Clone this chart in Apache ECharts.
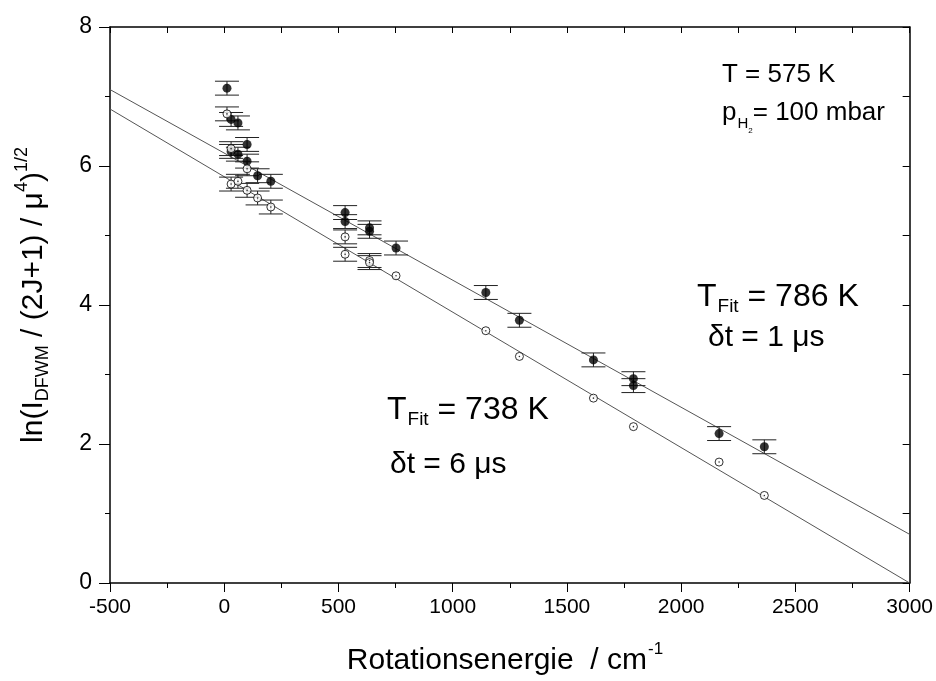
<!DOCTYPE html>
<html>
<head>
<meta charset="utf-8">
<script src="https://cdn.jsdelivr.net/npm/echarts@6/dist/echarts.min.js"></script>
<style>
  html, body { margin: 0; padding: 0; background: #fff; }
  #chart { width: 936px; height: 681px; }
</style>
</head>
<body>
<div id="chart"></div>
<script>
// Rotational energies (cm^-1) and Boltzmann-plot values, delay 1 us (filled)
const energiesFilled = [12, 30, 30, 60, 60, 100, 100, 146, 204, 529, 529, 636, 636, 752, 1145, 1292, 1616, 1791, 1791, 2166, 2364];
const valuesFilled   = [7.12, 6.67, 6.21, 6.62, 6.17, 6.31, 6.07, 5.86, 5.78, 5.33, 5.20, 5.11, 5.06, 4.82, 4.18, 3.78, 3.21, 2.94, 2.84, 2.15, 1.96];
const errorsFilled   = [0.1, 0.1, 0.1, 0.1, 0.1, 0.1, 0.1, 0.1, 0.1, 0.1, 0.1, 0.1, 0.1, 0.1, 0.1, 0.1, 0.1, 0.1, 0.1, 0.1, 0.1];

// Delay 6 us (open circles)
const energiesOpen = [12, 30, 30, 60, 100, 100, 146, 204, 529, 529, 636, 636, 752, 1145, 1292, 1616, 1791, 2166, 2364];
const valuesOpen   = [6.75, 6.25, 5.74, 5.78, 5.96, 5.65, 5.54, 5.41, 4.98, 4.73, 4.64, 4.61, 4.42, 3.63, 3.26, 2.66, 2.25, 1.74, 1.26];
const errorsOpen   = [0.1, 0.1, 0.1, 0.1, 0.1, 0.1, 0.1, 0.1, 0.1, 0.1, 0.1, 0.1, 0, 0, 0, 0, 0, 0, 0];

// Linear fits (end points over the axis range)
const fitEnergies   = [-500, 3000];
const fitFilledVals = [7.10, 0.70];
const fitOpenVals   = [6.82, 0.00];

// Axis ticks
const xTicks = [-500, 0, 500, 1000, 1500, 2000, 2500, 3000];
const yTicks = [0, 2, 4, 6, 8];

const FONT = '"Liberation Sans", Arial, Helvetica, sans-serif';

const zip = (xs, ys) => xs.map((x, i) => [x, ys[i]]);
const zip3 = (xs, ys, es) => xs.map((x, i) => [x, ys[i], es[i]]);

function errorBars(api) {
  const x = api.value(0), y = api.value(1), e = api.value(2);
  if (!e) return null;
  const top = api.coord([x, y + e]);
  const bot = api.coord([x, y - e]);
  const hw = 12;
  const st = { stroke: '#222', lineWidth: 1 };
  return {
    type: 'group',
    children: [
      { type: 'line', shape: { x1: top[0], y1: top[1], x2: bot[0], y2: bot[1] }, style: st },
      { type: 'line', shape: { x1: top[0] - hw, y1: top[1], x2: top[0] + hw, y2: top[1] }, style: st },
      { type: 'line', shape: { x1: bot[0] - hw, y1: bot[1], x2: bot[0] + hw, y2: bot[1] }, style: st }
    ]
  };
}

const xMin = xTicks[0], xMax = xTicks[xTicks.length - 1];
const yMin = yTicks[0], yMax = yTicks[yTicks.length - 1];
const plain = v => String(v);

const baseX = {
  type: 'value', min: xMin, max: xMax, interval: 500,
  axisLine: { show: true, onZero: false, lineStyle: { color: '#000', width: 1.5 } },
  splitLine: { show: false },
  minorTick: { show: true, splitNumber: 2, length: 5, lineStyle: { color: '#000', width: 1 } }
};
const baseY = {
  type: 'value', min: yMin, max: yMax, interval: 2,
  axisLine: { show: true, onZero: false, lineStyle: { color: '#000', width: 1.5 } },
  splitLine: { show: false },
  minorTick: { show: true, splitNumber: 2, length: 5, lineStyle: { color: '#000', width: 1 } }
};

const chart = echarts.init(document.getElementById('chart'), null, { renderer: 'canvas' });

chart.setOption({
  animation: false,
  backgroundColor: '#fff',
  grid: { left: 110, right: 26, top: 27, bottom: 98, containLabel: false },
  xAxis: [
    Object.assign({}, baseX, {
      position: 'bottom',
      axisTick: { show: true, inside: false, length: 9, lineStyle: { color: '#000', width: 1 } },
      axisLabel: { show: true, color: '#000', fontFamily: FONT, fontSize: 21, margin: 14, formatter: plain }
    }),
    Object.assign({}, baseX, {
      position: 'top',
      axisTick: { show: true, inside: true, length: 6, lineStyle: { color: '#000', width: 1 } },
      minorTick: { show: true, splitNumber: 2, length: 6, lineStyle: { color: '#000', width: 1 } },
      axisLabel: { show: false }
    })
  ],
  yAxis: [
    Object.assign({}, baseY, {
      position: 'left',
      axisTick: { show: true, inside: false, length: 11, lineStyle: { color: '#000', width: 1 } },
      axisLabel: { show: true, color: '#000', fontFamily: FONT, fontSize: 23, margin: 18, formatter: plain }
    }),
    Object.assign({}, baseY, {
      position: 'right',
      axisTick: { show: true, inside: true, length: 7, lineStyle: { color: '#000', width: 1 } },
      minorTick: { show: true, splitNumber: 2, length: 7, lineStyle: { color: '#000', width: 1 } },
      axisLabel: { show: false }
    })
  ],
  series: [
    {
      type: 'line', data: zip(fitEnergies, fitFilledVals), symbol: 'none',
      lineStyle: { color: '#555', width: 1 }, z: 1, silent: true
    },
    {
      type: 'line', data: zip(fitEnergies, fitOpenVals), symbol: 'none',
      lineStyle: { color: '#555', width: 1 }, z: 1, silent: true
    },
    {
      type: 'custom', data: zip3(energiesFilled, valuesFilled, errorsFilled),
      renderItem: (params, api) => errorBars(api), z: 2, silent: true
    },
    {
      type: 'custom', data: zip3(energiesOpen, valuesOpen, errorsOpen),
      renderItem: (params, api) => errorBars(api), z: 2, silent: true
    },
    {
      type: 'scatter', data: zip(energiesFilled, valuesFilled), symbol: 'circle', symbolSize: 9,
      itemStyle: { color: '#000' }, z: 3, silent: true
    },
    {
      type: 'scatter', data: zip(energiesOpen, valuesOpen), symbol: 'circle', symbolSize: 8,
      itemStyle: { color: '#fff', borderColor: '#000', borderWidth: 1 }, z: 3, silent: true
    },
    {
      type: 'scatter', data: zip(energiesOpen, valuesOpen), symbol: 'circle', symbolSize: 1.6,
      itemStyle: { color: '#000' }, z: 4, silent: true
    }
  ],
  graphic: [
    {
      type: 'text', x: 505, y: 661,
      style: {
        text: '{m|Rotationsenergie  / cm}{sup|-1}',
        align: 'center', verticalAlign: 'middle', fill: '#000',
        rich: {
          m: { fontFamily: FONT, fontSize: 30, fill: '#000', verticalAlign: 'middle' },
          sup: { fontFamily: FONT, fontSize: 17, fill: '#000', verticalAlign: 'middle', padding: [0, 0, 24, 1] }
        }
      }
    },
    {
      type: 'text', x: 34, y: 295, rotation: Math.PI / 2,
      style: {
        text: '{m|ln(I}{sub|DFWM}{m| / (2J+1) / μ}{sup|4}{m|)}{sup|1/2}',
        align: 'center', verticalAlign: 'middle', fill: '#000',
        rich: {
          m: { fontFamily: FONT, fontSize: 30, fill: '#000', verticalAlign: 'middle' },
          sub: { fontFamily: FONT, fontSize: 18, fill: '#000', verticalAlign: 'middle', padding: [18, 0, 0, 0] },
          sup: { fontFamily: FONT, fontSize: 18, fill: '#000', verticalAlign: 'middle', padding: [0, 0, 24, 0] }
        }
      }
    },
    {
      type: 'text', x: 722, y: 75,
      style: {
        text: 'T = 575 K', fill: '#000', font: '26px ' + FONT,
        align: 'left', verticalAlign: 'middle'
      }
    },
    {
      type: 'text', x: 722, y: 113,
      style: {
        text: '{m|p}{sub|H}{ss|2}{m|= 100 mbar}',
        align: 'left', verticalAlign: 'middle', fill: '#000',
        rich: {
          m: { fontFamily: FONT, fontSize: 26, fill: '#000', verticalAlign: 'middle' },
          sub: { fontFamily: FONT, fontSize: 15, fill: '#000', verticalAlign: 'middle', padding: [22, 0, 0, 1] },
          ss: { fontFamily: FONT, fontSize: 8, fill: '#000', verticalAlign: 'middle', padding: [36, 0, 0, 0] }
        }
      }
    },
    {
      type: 'text', x: 697, y: 297,
      style: {
        text: '{m|T}{sub|Fit}{m| = 786 K}',
        align: 'left', verticalAlign: 'middle', fill: '#000',
        rich: {
          m: { fontFamily: FONT, fontSize: 32, fill: '#000', verticalAlign: 'middle' },
          sub: { fontFamily: FONT, fontSize: 19, fill: '#000', verticalAlign: 'middle', padding: [19, 0, 0, 1] }
        }
      }
    },
    {
      type: 'text', x: 708, y: 338,
      style: {
        text: 'δt = 1 μs', fill: '#000', font: '30px ' + FONT,
        align: 'left', verticalAlign: 'middle'
      }
    },
    {
      type: 'text', x: 387, y: 410,
      style: {
        text: '{m|T}{sub|Fit}{m| = 738 K}',
        align: 'left', verticalAlign: 'middle', fill: '#000',
        rich: {
          m: { fontFamily: FONT, fontSize: 32, fill: '#000', verticalAlign: 'middle' },
          sub: { fontFamily: FONT, fontSize: 19, fill: '#000', verticalAlign: 'middle', padding: [19, 0, 0, 1] }
        }
      }
    },
    {
      type: 'text', x: 390, y: 465,
      style: {
        text: 'δt = 6 μs', fill: '#000', font: '30px ' + FONT,
        align: 'left', verticalAlign: 'middle'
      }
    }
  ]
});
</script>
</body>
</html>
